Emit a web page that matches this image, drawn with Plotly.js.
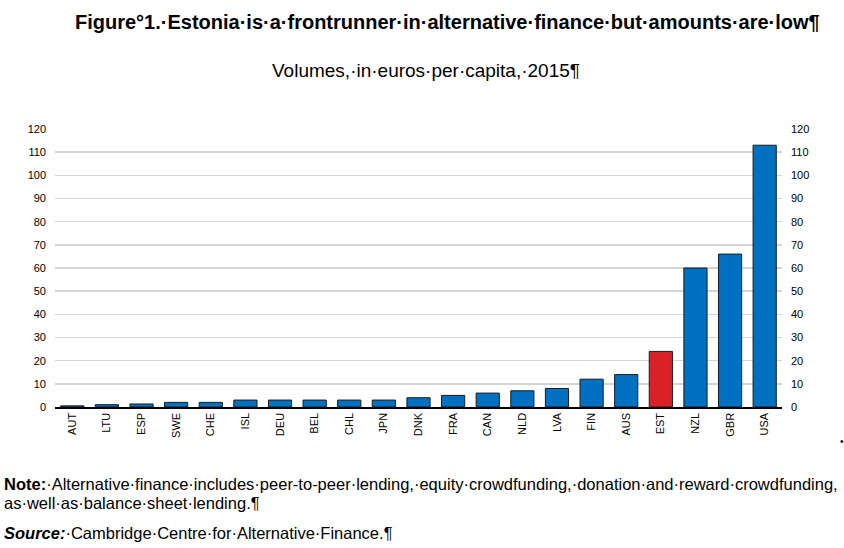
<!DOCTYPE html>
<html><head><meta charset="utf-8">
<script src="https://cdn.plot.ly/plotly-3.0.1.min.js"></script>
<style>html,body{margin:0;padding:0;background:#fff;}#chart{width:844px;height:548px;}</style>
</head><body><div id="chart"></div>
<script>
const countries = ["AUT","LTU","ESP","SWE","CHE","ISL","DEU","BEL","CHL","JPN","DNK","FRA","CAN","NLD","LVA","FIN","AUS","EST","NZL","GBR","USA"];
const volumes = [0.5,1,1.3,2,2,3,3,3,3,3,4,5,6,7,8,12,14,24,60,66,113];
const highlight = "EST";
const yTicks = [0,10,20,30,40,50,60,70,80,90,100,110,120];

const blue = "#0070C0", red = "#DA2128";
const colors = countries.map(c => c === highlight ? red : blue);
const fontFam = "'Liberation Sans',Arial,sans-serif";

const data = [
  {type:"bar", x:countries, y:volumes, marker:{color:colors, line:{color:"#1b1b1b", width:1}}, hoverinfo:"x+y"},
  {type:"scatter", mode:"lines", x:countries, y:volumes, yaxis:"y2", line:{width:0, color:"rgba(0,0,0,0)"}, hoverinfo:"skip", showlegend:false}
];

const layout = {
  width:844, height:548,
  margin:{l:55, r:62, t:129, b:141},
  paper_bgcolor:"#fff", plot_bgcolor:"#fff",
  showlegend:false, bargap:0.33,
  font:{family:fontFam, size:11, color:"#000"},
  xaxis:{type:"category", tickangle:-90, showline:true, linecolor:"#000", linewidth:1.5,
         showgrid:false, ticks:"", tickfont:{size:11}, fixedrange:true},
  yaxis:{range:[0,120], tickvals:yTicks, showgrid:true, gridcolor:"#d4d4d4", gridwidth:1.5,
         zeroline:false, showline:false, ticks:"", tickfont:{size:11}, ticklabelstandoff:8},
  yaxis2:{range:[0,120], tickvals:yTicks, overlaying:"y", side:"right", showgrid:false,
          zeroline:false, showline:false, ticks:"", tickfont:{size:11}, ticklabelstandoff:8},
  annotations:[
    {xref:"paper", yref:"paper", text:"<b>Figure°1.·Estonia·is·a·frontrunner·in·alternative·finance·but·amounts·are·low¶</b>",
     x:(447-55)/727, xanchor:"center", y:(548-141-22)/278, yanchor:"middle", showarrow:false,
     font:{family:fontFam, size:20, color:"#000"}},
    {xref:"paper", yref:"paper", text:"Volumes,·in·euros·per·capita,·2015¶",
     x:(426-55)/727, xanchor:"center", y:(548-141-70)/278, yanchor:"middle", showarrow:false,
     font:{family:fontFam, size:19, color:"#000"}},
    {xref:"paper", yref:"paper", text:"<b>Note:</b>·Alternative·finance·includes·peer-to-peer·lending,·equity·crowdfunding,·donation·and·reward·crowdfunding,",
     x:-53/727, xanchor:"left", y:(407-484)/278, yanchor:"middle", showarrow:false,
     font:{family:fontFam, size:16.5, color:"#000"}},
    {xref:"paper", yref:"paper", text:"as·well·as·balance·sheet·lending.¶",
     x:-53/727, xanchor:"left", y:(407-503)/278, yanchor:"middle", showarrow:false,
     font:{family:fontFam, size:16.5, color:"#000"}},
    {xref:"paper", yref:"paper", text:"<b><i>Source:</i></b>·Cambridge·Centre·for·Alternative·Finance.¶",
     x:-53/727, xanchor:"left", y:(407-533)/278, yanchor:"middle", showarrow:false,
     font:{family:fontFam, size:16.5, color:"#000"}},
    {xref:"paper", yref:"paper", text:"•", x:(842-55)/727, xanchor:"center", y:(407-441)/278, yanchor:"middle",
     showarrow:false, font:{size:10, color:"#000"}}
  ]
};
Plotly.newPlot("chart", data, layout, {displayModeBar:false, staticPlot:true});
</script></body></html>
